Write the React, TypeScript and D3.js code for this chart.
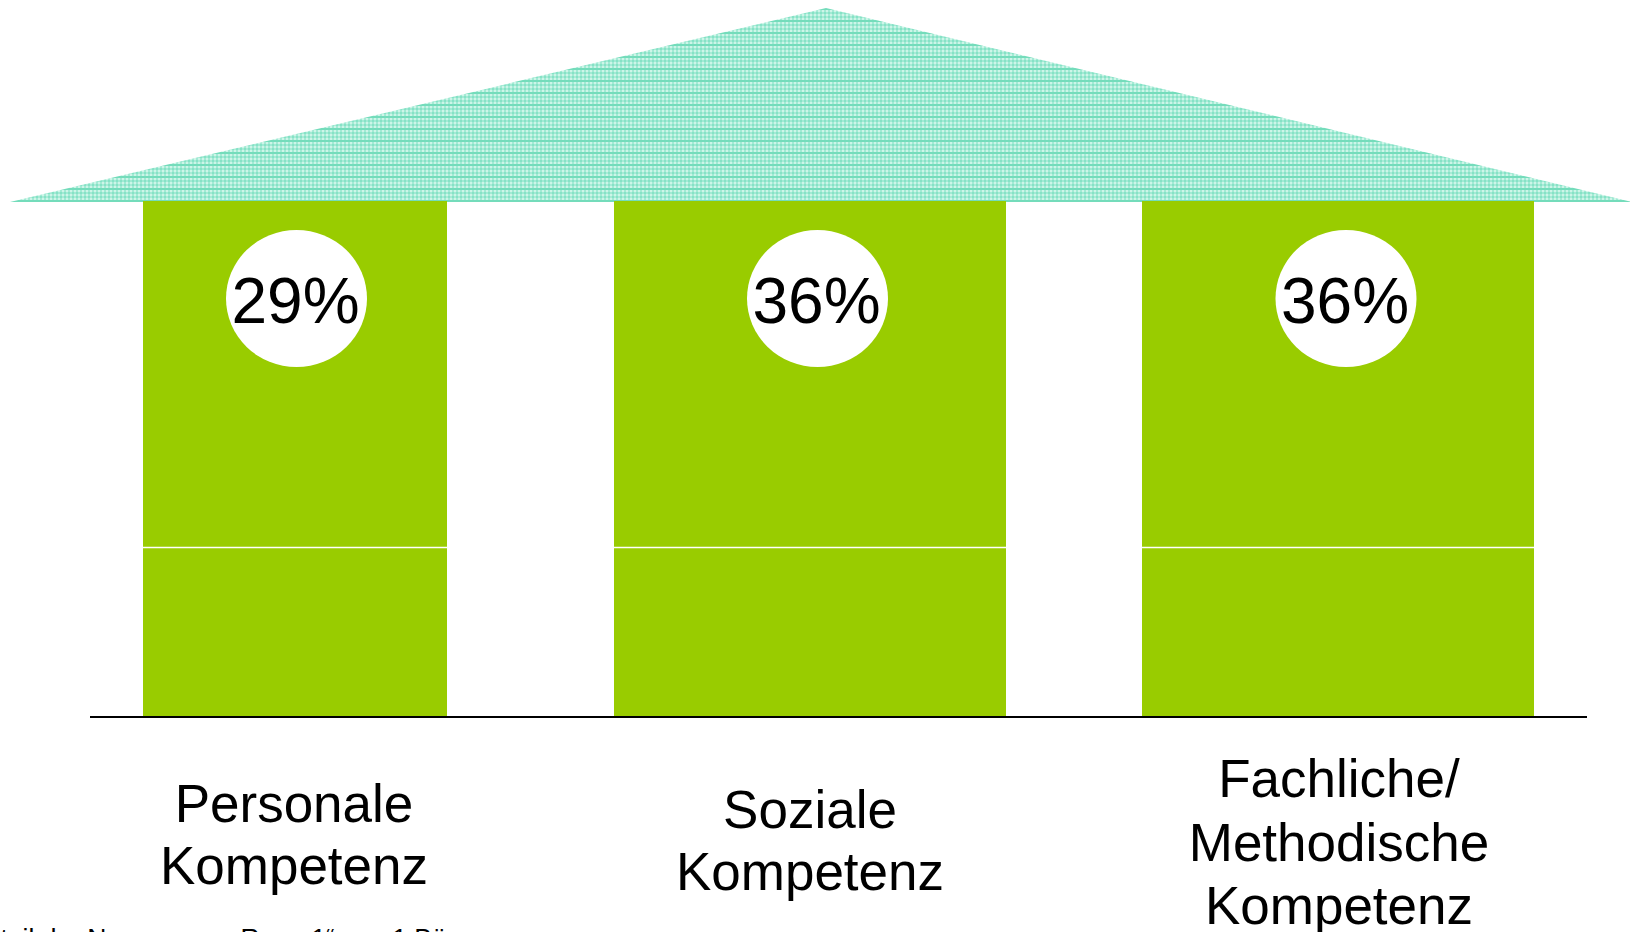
import React from "react";
import * as d3 from "d3";

const categories = ["Personale Kompetenz", "Soziale Kompetenz", "Fachliche/ Methodische Kompetenz"];
const labelLines = [["Personale", "Kompetenz"], ["Soziale", "Kompetenz"], ["Fachliche/", "Methodische", "Kompetenz"]];
const values = [29, 36, 36];
const valueLabels = ["29%", "36%", "36%"];
// pillar segments (fraction of pillar height): base block and upper block
const segmentBreaks = [0, 0.328, 1];
const footnote = "Anteil der Nennungen „Rang 1“ von 1 Bä";

const W = 1630;
const H = 932;
const GREEN = "#99cc00";

export default function App() {
  const xCenter = d3.scaleOrdinal<string, number>().domain(categories).range([295, 810, 1338]);
  const labelX = d3.scaleOrdinal<string, number>().domain(categories).range([294, 810, 1339]);
  const barWidth = d3.scaleLinear().domain([29, 36]).range([304, 392]);
  const circleX = d3.scaleOrdinal<string, number>().domain(categories).range([296.5, 817.5, 1346]);
  const y = d3.scaleLinear().domain([0, 1]).range([716, 201]);
  const labelBaseline = [822, 828, 797];
  const labelStep = [62, 62, 63.5];

  const roof = d3.line()([
    [10, 202],
    [826, 8],
    [1632, 202],
  ]) + "Z";

  return (
    <svg
      width={W}
      height={H}
      style={{ position: "absolute", left: 0, top: 0, display: "block", background: "#fff" }}
      fontFamily="'Liberation Sans', Arial, sans-serif"
    >
      <defs>
        <pattern id="roofPat" width="4" height="12" patternUnits="userSpaceOnUse">
          <rect width="4" height="12" fill="#cdf5e8" />
          <rect x="0" y="0" width="2" height="12" fill="#a2ead4" />
          <rect x="0" y="0" width="4" height="2" fill="#a2ead4" />
          <rect x="0" y="4" width="4" height="2" fill="#a8ebd6" />
          <rect x="0" y="8" width="4" height="2" fill="#74dcbb" />
          <rect x="0" y="0" width="2" height="2" fill="#86e2c6" />
          <rect x="0" y="4" width="2" height="2" fill="#86e2c6" />
        </pattern>
      </defs>

      <path d={roof} fill="url(#roofPat)" />

      {categories.map((c, i) => {
        const w = barWidth(values[i]);
        const x0 = xCenter(c) - w / 2;
        return (
          <g key={c}>
            {segmentBreaks.slice(0, -1).map((b, j) => (
              <rect
                key={j}
                x={x0}
                y={y(segmentBreaks[j + 1])}
                width={w}
                height={y(b) - y(segmentBreaks[j + 1])}
                fill={GREEN}
              />
            ))}
            {segmentBreaks.slice(1, -1).map((b, j) => (
              <line key={"s" + j} x1={x0} x2={x0 + w} y1={y(b) + 0.5} y2={y(b) + 0.5} stroke="#fff" strokeWidth={1.5} />
            ))}
            <ellipse cx={circleX(c)} cy={298.5} rx={70.5} ry={68.5} fill="#fff" />
            <text x={circleX(c) - 1} y={323} textAnchor="middle" fontSize={64} fill="#000">
              {valueLabels[i]}
            </text>
            {labelLines[i].map((ln, k) => (
              <text
                key={k}
                x={labelX(c)}
                y={labelBaseline[i] + k * labelStep[i]}
                textAnchor="middle"
                fontSize={53}
                fill="#000"
              >
                {ln}
              </text>
            ))}
          </g>
        );
      })}

      <line x1={90} x2={1587} y1={717} y2={717} stroke="#000" strokeWidth={2} />

      <text x={-32} y={947} fontSize={26.5} fill="#000">
        {footnote}
      </text>
    </svg>
  );
}
